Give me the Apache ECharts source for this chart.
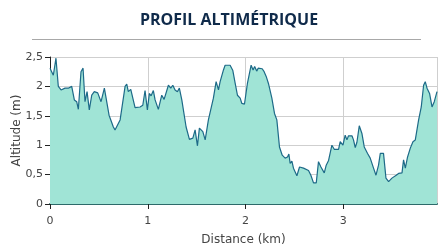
<!DOCTYPE html>
<html><head><meta charset="utf-8">
<script src="https://cdn.jsdelivr.net/npm/echarts@6/dist/echarts.min.js"></script>
<style>html,body{margin:0;padding:0;background:#fff}#c{width:440px;height:246px}</style>
</head><body><div id="c"></div>
<script>
const distanceKm = [0,0.034,0.061,0.085,0.113,0.154,0.187,0.222,0.249,0.273,0.290,0.317,0.338,0.358,0.379,0.402,0.427,0.453,0.488,0.522,0.556,0.604,0.648,0.665,0.717,0.768,0.785,0.801,0.826,0.870,0.921,0.949,0.972,0.996,1.016,1.034,1.057,1.075,1.108,1.143,1.167,1.211,1.235,1.256,1.279,1.303,1.323,1.348,1.392,1.426,1.461,1.484,1.508,1.528,1.563,1.587,1.620,1.638,1.671,1.699,1.723,1.740,1.774,1.791,1.842,1.870,1.894,1.917,1.945,1.962,1.989,2.019,2.057,2.077,2.093,2.114,2.129,2.149,2.170,2.190,2.211,2.234,2.269,2.296,2.320,2.347,2.375,2.405,2.429,2.443,2.456,2.474,2.490,2.508,2.525,2.552,2.593,2.644,2.668,2.695,2.723,2.746,2.771,2.789,2.805,2.825,2.849,2.883,2.907,2.951,2.968,2.996,3.019,3.037,3.053,3.071,3.088,3.104,3.122,3.139,3.163,3.190,3.214,3.248,3.275,3.309,3.334,3.360,3.378,3.395,3.411,3.436,3.463,3.480,3.497,3.514,3.541,3.565,3.600,3.616,3.634,3.657,3.685,3.712,3.736,3.770,3.797,3.821,3.838,3.856,3.882,3.907,3.930,3.958];
const altitudeM = [2.31,2.19,2.48,2.0,1.94,1.97,1.97,2.0,1.77,1.74,1.61,2.25,2.31,1.74,1.91,1.60,1.85,1.91,1.89,1.74,1.97,1.51,1.31,1.26,1.43,2.0,2.04,1.91,1.95,1.64,1.65,1.68,1.93,1.60,1.88,1.84,1.93,1.77,1.61,1.85,1.78,2.02,1.97,2.02,1.94,1.91,1.97,1.77,1.31,1.10,1.12,1.26,0.99,1.29,1.23,1.09,1.43,1.44,1.80,2.08,1.94,2.08,2.28,2.36,2.36,2.27,2.05,1.85,1.80,1.71,1.70,2.05,2.36,2.28,2.34,2.26,2.31,2.28,2.30,2.25,2.17,2.05,1.80,1.54,1.43,0.97,0.83,0.78,0.80,0.85,0.69,0.73,0.61,0.64,0.48,0.63,0.61,0.57,0.49,0.36,0.36,0.72,0.63,0.65,0.53,0.66,0.74,1.0,0.93,0.93,1.06,1.00,1.17,1.09,1.16,1.13,1.16,1.09,0.96,1.05,1.33,1.20,0.97,0.86,0.78,0.61,0.49,0.66,0.86,0.84,0.86,0.44,0.38,0.38,0.44,0.42,0.49,0.52,0.53,0.75,0.61,0.80,0.95,1.06,1.09,1.43,1.65,2.02,2.08,1.97,1.88,1.65,1.74,1.91];
const titleText = 'PROFIL ALTIMÉTRIQUE';
const xName = 'Distance (km)';
const yName = 'Altitude (m)';

const chart = echarts.init(document.getElementById('c'), null, {renderer:'canvas'});
const fmt = v => String(v).replace('.', ',');
chart.setOption({
  animation:false,
  title:{text:titleText,left:224,top:7,textAlign:'center',
    textStyle:{fontFamily:'Open Sans',fontWeight:'bold',fontSize:16,color:'#0f2a4a'}},
  graphic:[{type:'line',shape:{x1:32,y1:39.5,x2:421,y2:39.5},style:{stroke:'#a8a8a8',lineWidth:1}}],
  grid:{left:50,right:3,top:57,bottom:42,containLabel:false,outerBoundsMode:'none'},
  xAxis:{type:'value',min:0,max:distanceKm[distanceKm.length-1],interval:1,
    name:xName,nameLocation:'middle',nameGap:30,nameMoveOverlap:false,
    nameTextStyle:{fontFamily:'DejaVu Sans',fontSize:12,color:'#444'},
    axisLine:{show:true,onZero:false,lineStyle:{color:'#2d6a6a',width:2}},
    axisTick:{show:true,length:5,lineStyle:{color:'#222'}},
    axisLabel:{showMaxLabel:false,margin:12,fontFamily:'DejaVu Sans',fontSize:11,color:'#444',formatter:fmt},
    splitLine:{show:true,lineStyle:{color:'#cfcfcf'}}},
  yAxis:{type:'value',min:0,max:2.5,interval:0.5,
    name:yName,nameLocation:'middle',nameGap:27,nameMoveOverlap:false,
    nameTextStyle:{fontFamily:'DejaVu Sans',fontSize:12,color:'#444'},
    axisLine:{show:true,lineStyle:{color:'#222',width:1}},
    axisTick:{show:true,length:5,lineStyle:{color:'#222'}},
    axisLabel:{margin:7,fontFamily:'DejaVu Sans',fontSize:11,color:'#444',formatter:fmt},
    splitLine:{show:true,lineStyle:{color:'#cfcfcf'}}},
  series:[{type:'line',data:distanceKm.map((d,i)=>[d,altitudeM[i]]),
    symbol:'none',z:1,
    lineStyle:{color:'#1d6a88',width:1.2},
    areaStyle:{color:'#a0e4d6',opacity:1}}]
});
</script></body></html>
